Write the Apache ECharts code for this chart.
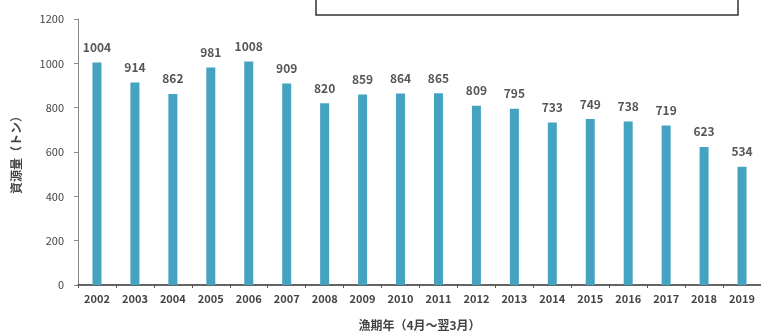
<!DOCTYPE html>
<html>
<head>
<meta charset="utf-8">
<script src="https://cdn.jsdelivr.net/npm/echarts@6/dist/echarts.min.js"></script>
<style>
  html, body { margin: 0; padding: 0; background: #fff; }
  #chart { width: 761px; height: 336px; }
</style>
</head>
<body>
<div id="chart"></div>
<script>
// 漁期年ごとの資源量（トン）
const years = ['2002','2003','2004','2005','2006','2007','2008','2009','2010',
               '2011','2012','2013','2014','2015','2016','2017','2018','2019'];
const biomass = [1004, 914, 862, 981, 1008, 909, 820, 859, 864,
                 865, 809, 795, 733, 749, 738, 719, 623, 534];
const yTicks = [0, 200, 400, 600, 800, 1000, 1200];

const font = '"Noto Sans CJK JP", "Noto Sans", sans-serif';
const chart = echarts.init(document.getElementById('chart'));

chart.setOption({
  animation: false,
  backgroundColor: '#fff',
  grid: { left: 78, right: -3, top: 19, bottom: 50, containLabel: false },
  xAxis: {
    type: 'category',
    data: years,
    name: '漁期年（4月～翌3月）',
    nameLocation: 'middle',
    nameGap: 34,
    nameTextStyle: { fontFamily: font, fontSize: 12, fontWeight: 'bold', color: '#444' },
    axisLine: { lineStyle: { color: '#333', width: 1.5 } },
    axisTick: { show: true, length: 3, lineStyle: { color: '#555' } },
    axisLabel: { fontFamily: font, fontSize: 11, fontWeight: 'bold', color: '#444', margin: 8, interval: 0 }
  },
  yAxis: {
    type: 'value',
    min: yTicks[0],
    max: yTicks[yTicks.length - 1],
    interval: 200,
    name: '資源量（トン）',
    nameLocation: 'middle',
    nameRotate: 90,
    nameGap: 56,
    nameTextStyle: { fontFamily: font, fontSize: 12, fontWeight: 'bold', color: '#444' },
    axisLine: { show: true, lineStyle: { color: '#888', width: 1 } },
    axisTick: { show: true, length: 4, lineStyle: { color: '#888' } },
    axisLabel: { fontFamily: font, fontSize: 11, color: '#444', margin: 14, formatter: v => String(v) },
    splitLine: { show: false }
  },
  graphic: [{
    type: 'rect',
    shape: { x: 316, y: -10, width: 422, height: 25 },
    style: { fill: '#fff', stroke: '#333', lineWidth: 1.5 }
  }],
  series: [{
    type: 'bar',
    data: biomass,
    barWidth: 9,
    itemStyle: { color: '#45a3c2' },
    label: {
      show: true,
      position: 'top',
      distance: 9,
      fontFamily: font,
      fontSize: 12,
      fontWeight: 'bold',
      color: '#555'
    }
  }]
});
</script>
</body>
</html>
